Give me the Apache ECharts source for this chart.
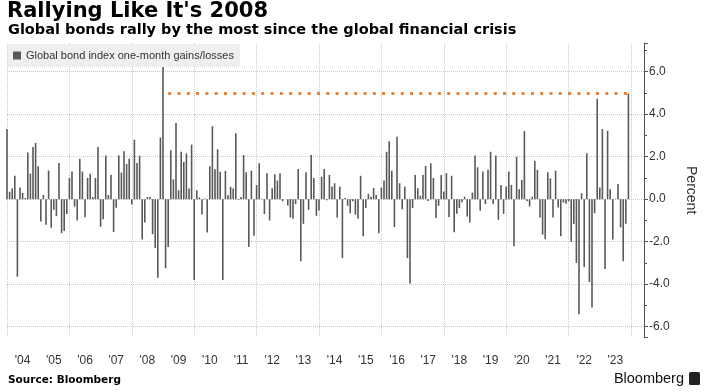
<!DOCTYPE html>
<html>
<head>
<meta charset="utf-8">
<script src="https://cdn.jsdelivr.net/npm/echarts@6/dist/echarts.min.js"></script>
<style>
html,body{margin:0;padding:0;background:#fff;}
#chart{width:706px;height:392px;}
</style>
</head>
<body>
<div id="chart"></div>
<script>
// ---- data ----
const firstMonth = '2003-12';          // month of first bar (monthly returns)
const extraMonths = 6;                 // empty axis room after last bar
const yearLabels = ["'04","'05","'06","'07","'08","'09","'10","'11","'12","'13","'14","'15","'16","'17","'18","'19","'20","'21","'22","'23"];
const values = [
 3.3,0.35,0.5,1.1,-3.65,0.55,0.3,0.05,2.2,1.2,2.45,2.65,
 1.55,-1.05,0.2,-1.2,1.35,-1.35,-0.5,-0.8,1.7,-1.6,-1.5,-0.7,
 1.0,1.3,-0.35,-1.0,1.9,1.3,-0.85,1.0,1.2,0.1,1.0,2.45,
 -1.3,-0.95,2.05,0.2,1.15,-1.55,-0.4,2.05,1.25,2.25,1.65,1.9,
 -0.25,2.8,1.7,2.05,-1.9,-1.1,0.1,0.12,-1.65,-2.3,-3.7,2.9,
 6.23,-3.25,-2.25,2.3,0.93,3.58,0.42,2.23,1.75,2.15,0.5,2.57,
 -3.8,0.42,0.08,-0.72,0.03,-1.57,1.55,3.43,1.41,2.35,1.29,-3.8,
 1.33,0.19,0.58,0.5,3.1,-0.03,0.1,2.08,1.27,-2.25,1.34,-1.72,
 0.67,1.69,0.02,-0.7,1.22,-1.0,0.52,1.17,0.88,1.22,-0.1,0.0,
 -0.3,-0.86,-0.92,-0.23,1.42,-2.92,-1.16,1.27,-0.5,2.08,1.0,-0.78,
 -0.53,1.06,1.42,-0.05,1.14,0.6,0.75,-0.86,0.6,-2.77,0.05,-0.31,
 -0.66,-0.1,-0.73,-0.92,1.1,-1.75,-0.42,0.25,0.12,0.52,0.2,-1.6,
 0.55,0.88,2.23,2.73,1.34,-1.31,2.94,0.75,-0.47,0.6,-2.77,-3.97,
 -0.42,1.14,0.52,0.16,1.14,1.56,-0.08,1.69,1.0,-0.89,-0.31,1.14,
 0.36,1.22,-0.84,1.1,-1.56,-0.69,-0.42,-0.14,0.12,-0.81,-1.1,0.31,
 2.05,1.5,-0.55,1.3,-0.23,1.38,2.23,-0.23,2.05,-0.97,0.67,-0.69,
 0.6,1.3,0.67,-2.22,2.0,0.47,0.9,3.2,-0.1,-0.34,0.12,1.81,
 1.38,-0.86,-1.67,-1.88,1.27,0.98,-0.86,1.34,-0.39,-1.75,-0.16,-0.22,
 -0.1,-2.0,-1.17,-3.0,-5.42,0.28,-3.19,2.16,-3.9,-5.1,-0.66,4.73,
 0.55,3.3,-3.28,3.22,0.47,-1.9,0.02,0.72,-1.33,-2.92,-1.16,4.97
];
const refLineFrom = '2009-02';   // dotted reference line: latest value carried back to here
const seriesName = 'Global bond index one-month gains/losses';

// ---- build categories ----
const categories = [];
{
  let [y, m] = firstMonth.split('-').map(Number);
  for (let i = 0; i < values.length + extraMonths; i++) {
    categories.push(y + '-' + String(m).padStart(2, '0'));
    m++; if (m > 12) { m = 1; y++; }
  }
}
const latest = values[values.length - 1];
const refStart = categories.indexOf(refLineFrom);
const refLine = categories.map((c, i) => (i >= refStart && i < values.length) ? latest : null);
const labelAt = (i) => {
  const [y, m] = categories[i].split('-').map(Number);
  return m === 6 ? yearLabels.indexOf("'" + String(y).slice(2)) : -1;
};

const chart = echarts.init(document.getElementById('chart'), null, {renderer: 'canvas'});
const bold = 'DejaVu Sans';
const option = {
  animation: false,
  backgroundColor: '#ffffff',
  title: [
    {text: "Rallying Like It's 2008", left: 7, top: 0, padding: 0,
     textStyle: {fontFamily: bold, fontWeight: 'bold', fontSize: 21, lineHeight: 24, color: '#000'}},
    {text: 'Global bonds rally by the most since the global financial crisis', left: 8, top: 22, padding: 0,
     textStyle: {fontFamily: bold, fontWeight: 'bold', fontSize: 14.5, lineHeight: 17, color: '#000'}},
    {text: 'Source: Bloomberg', left: 8, top: 373, padding: 0,
     textStyle: {fontFamily: bold, fontWeight: 'bold', fontSize: 10.5, lineHeight: 14, color: '#000'}},
    {text: 'Bloomberg', right: 22, top: 371, padding: 0,
     textStyle: {fontFamily: 'Liberation Sans', fontWeight: 'normal', fontSize: 14.5, lineHeight: 16, color: '#111'}}
  ],
  graphic: [
    {type: 'rect', right: 6, top: 372, shape: {width: 11, height: 13, r: 1.5}, style: {fill: '#222'}}
  ],
  legend: {
    data: [seriesName], left: 8, top: 44, icon: 'rect', itemWidth: 8, itemHeight: 8,
    backgroundColor: '#efefef', padding: [6, 6, 6, 5],
    textStyle: {fontFamily: 'Liberation Sans', fontSize: 11, color: '#333'}
  },
  grid: {left: 7, right: 60.5, top: 43, bottom: 54.7, containLabel: false},
  xAxis: {
    type: 'category', data: categories, boundaryGap: false,
    axisLine: {show: false}, axisTick: {show: false},
    axisLabel: {
      interval: (i) => labelAt(i) >= 0,
      formatter: (v, i) => { const k = labelAt(i); return k >= 0 ? yearLabels[k] : ''; },
      color: '#333', fontSize: 12, fontFamily: 'Liberation Sans', margin: 17
    },
    splitLine: {show: true, interval: (i) => { const m = Number(categories[i].split('-')[1]); const y = Number(categories[i].split('-')[0]); return m === 12 && y % 2 === 1; },
      lineStyle: {type: 'dotted', color: '#c8c8c8', width: 1}}
  },
  yAxis: {
    type: 'value', position: 'right', min: -6.5, max: 7.35, splitNumber: 7,
    axisLine: {show: true, lineStyle: {color: '#555', width: 1}},
    axisTick: {show: true, length: 4, lineStyle: {color: '#555'}},
    minorTick: {show: true, splitNumber: 2, length: 3, lineStyle: {color: '#555'}},
    axisLabel: {
      formatter: (v) => (Math.abs(v) <= 6.001 && Math.abs(v % 2) < 1e-6) ? v.toFixed(1) : '',
      showMinLabel: false, showMaxLabel: false,
      color: '#333', fontSize: 12, fontFamily: 'Liberation Sans', margin: 5
    },
    splitLine: {show: true, showMinLine: false, showMaxLine: false, lineStyle: {type: 'dotted', color: '#c8c8c8', width: 1}},
    name: 'Percent', nameLocation: 'middle', nameRotate: -90, nameGap: 40,
    nameTextStyle: {fontFamily: 'Liberation Sans', fontSize: 14, color: '#333'}
  },
  series: [
    {name: seriesName, type: 'bar', data: values, barWidth: 1.6, clip: false,
     itemStyle: {color: '#595959'}, emphasis: {disabled: true}},
    {name: 'ref', type: 'line', data: refLine, symbol: 'none', connectNulls: false,
     lineStyle: {color: '#e8833a', width: 3, type: [3, 6.3], cap: 'butt'}, z: 3}
  ]
};
chart.setOption(option);
</script>
</body>
</html>
